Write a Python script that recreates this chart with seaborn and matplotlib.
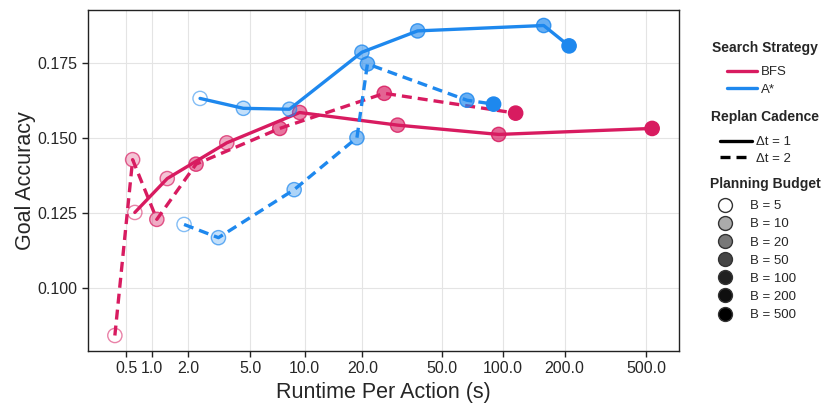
import numpy as np
import pandas as pd
import matplotlib
matplotlib.use("Agg")
import matplotlib.pyplot as plt
from matplotlib.lines import Line2D
from matplotlib.colors import to_rgba
import seaborn as sns

"""Goal accuracy vs. runtime per action for BFS / A* at several planning budgets"""

budgets = [5, 10, 20, 50, 100, 200, 500]
strategies = ["BFS", "A*"]
cadences = ["Δt = 1", "Δt = 2"]

# values
bfs_dt1_runtime = [0.65, 1.37, 3.61, 9.41, 30.1, 95.2, 533.6]
bfs_dt1_acc = [0.1251, 0.1364, 0.1483, 0.1584, 0.1542, 0.1511, 0.1531]
bfs_dt2_runtime = [0.32, 0.61, 1.11, 2.27, 7.33, 25.8, 115.3]
bfs_dt2_acc = [0.0841, 0.1427, 0.1228, 0.1412, 0.1531, 0.1648, 0.1582]
astar_dt1_runtime = [2.42, 4.55, 8.29, 19.87, 37.9, 158.1, 210.3]
astar_dt1_acc = [0.1631, 0.1598, 0.1595, 0.1785, 0.1856, 0.1874, 0.1806]
astar_dt2_runtime = [1.86, 3.20, 8.79, 18.74, 21.2, 66.5, 89.9]
astar_dt2_acc = [0.1211, 0.1167, 0.1327, 0.1500, 0.1746, 0.1625, 0.1612]

x_ticks = [0.5, 1, 2, 5, 10, 20, 50, 100, 200, 500]
y_ticks = [0.100, 0.125, 0.150, 0.175]

colors = {"BFS": "#D81B60", "A*": "#1E88EE"}
# marker fill strength per budget (plot) and legend grey level
fill_alpha = [0.0, 0.26, 0.36, 0.52, 0.6, 0.68, 1.0]
legend_shade = [0.0, 0.33, 0.53, 0.73, 0.87, 0.94, 1.0]

series = [
    ("BFS", "Δt = 1", bfs_dt1_runtime, bfs_dt1_acc),
    ("BFS", "Δt = 2", bfs_dt2_runtime, bfs_dt2_acc),
    ("A*", "Δt = 1", astar_dt1_runtime, astar_dt1_acc),
    ("A*", "Δt = 2", astar_dt2_runtime, astar_dt2_acc),
]
rows = []
for strat, cad, xs, ys in series:
    for b, x, y in zip(budgets, xs, ys):
        rows.append({"strategy": strat, "cadence": cad, "budget": b,
                     "runtime": x, "accuracy": y})
df = pd.DataFrame(rows)

sns.set_style("whitegrid", {
    "axes.edgecolor": "#222222",
    "grid.color": "#e4e4e4",
    "xtick.bottom": True,
    "ytick.left": True,
})
plt.rcParams["font.family"] = ["Liberation Sans", "DejaVu Sans"]
plt.rcParams["axes.linewidth"] = 1.0

fig = plt.figure(figsize=(8.3, 4.15), dpi=100)
ax = fig.add_axes([88 / 830, 1 - 351 / 415, (679 - 88) / 830, (351 - 10) / 415])
ax.set_xscale("function", functions=(np.log1p, np.expm1))

sns.lineplot(
    data=df, x="runtime", y="accuracy",
    hue="strategy", style="cadence",
    hue_order=strategies, style_order=cadences,
    palette=colors, dashes={"Δt = 1": "", "Δt = 2": (3.0, 1.8)},
    sort=False, estimator=None, linewidth=2.4, legend=False, ax=ax,
)

for strat, cad, xs, ys in series:
    base = colors[strat]
    faces = [to_rgba(base, a) for a in fill_alpha]
    edges = [to_rgba(base, 0.55 + 0.45 * a) for a in fill_alpha]
    ax.scatter(xs, ys, s=105, facecolors=faces, edgecolors=edges,
               linewidths=1.0, zorder=3)

ax.set_xticks(x_ticks)
ax.set_xticklabels([f"{t:.1f}" for t in x_ticks])
ax.set_yticks(y_ticks)
ax.set_yticklabels([f"{t:.3f}" for t in y_ticks])
ax.xaxis.set_minor_locator(matplotlib.ticker.NullLocator())
ax.tick_params(axis="both", labelsize=11.5, length=4, width=1, color="#222222")
ax.set_xlabel("Runtime Per Action (s)", fontsize=15.5)
ax.set_ylabel("Goal Accuracy", fontsize=15.5, labelpad=1)
for s in ax.spines.values():
    s.set_visible(True)

# legends on the right: titles as text, entry blocks placed under them
def title(y, txt):
    fig.text(765 / 830, 1 - y / 415, txt, ha="center", va="center",
             fontsize=10, fontweight="bold")

leg_kw = dict(loc="upper left", frameon=False, fontsize=9.5,
              borderpad=0, borderaxespad=0)

title(48, "Search Strategy")
h1 = [Line2D([], [], color=colors[s], lw=2.4) for s in strategies]
fig.legend(h1, strategies, bbox_to_anchor=(727 / 830, 1 - 66 / 415),
           handlelength=2.3, handletextpad=0.25, labelspacing=0.4, **leg_kw)

title(117, "Replan Cadence")
h2 = [Line2D([], [], color="black", lw=2.4, ls="-"),
      Line2D([], [], color="black", lw=2.4, ls=(0, (3.0, 1.8)))]
fig.legend(h2, cadences, bbox_to_anchor=(720 / 830, 1 - 136 / 415),
           handlelength=2.45, handletextpad=0.25, labelspacing=0.33, **leg_kw)

title(184, "Planning Budget")
h3 = [Line2D([], [], marker="o", ls="", markersize=10,
             markerfacecolor=to_rgba("black", a), markeredgecolor="#333333",
             markeredgewidth=1.0) for a in legend_shade]
fig.legend(h3, [f"B = {b}" for b in budgets],
           bbox_to_anchor=(714 / 830, 1 - 200 / 415),
           handlelength=1.6, handletextpad=1.1, labelspacing=0.45, **leg_kw)

fig.savefig("out.png", dpi=100)
